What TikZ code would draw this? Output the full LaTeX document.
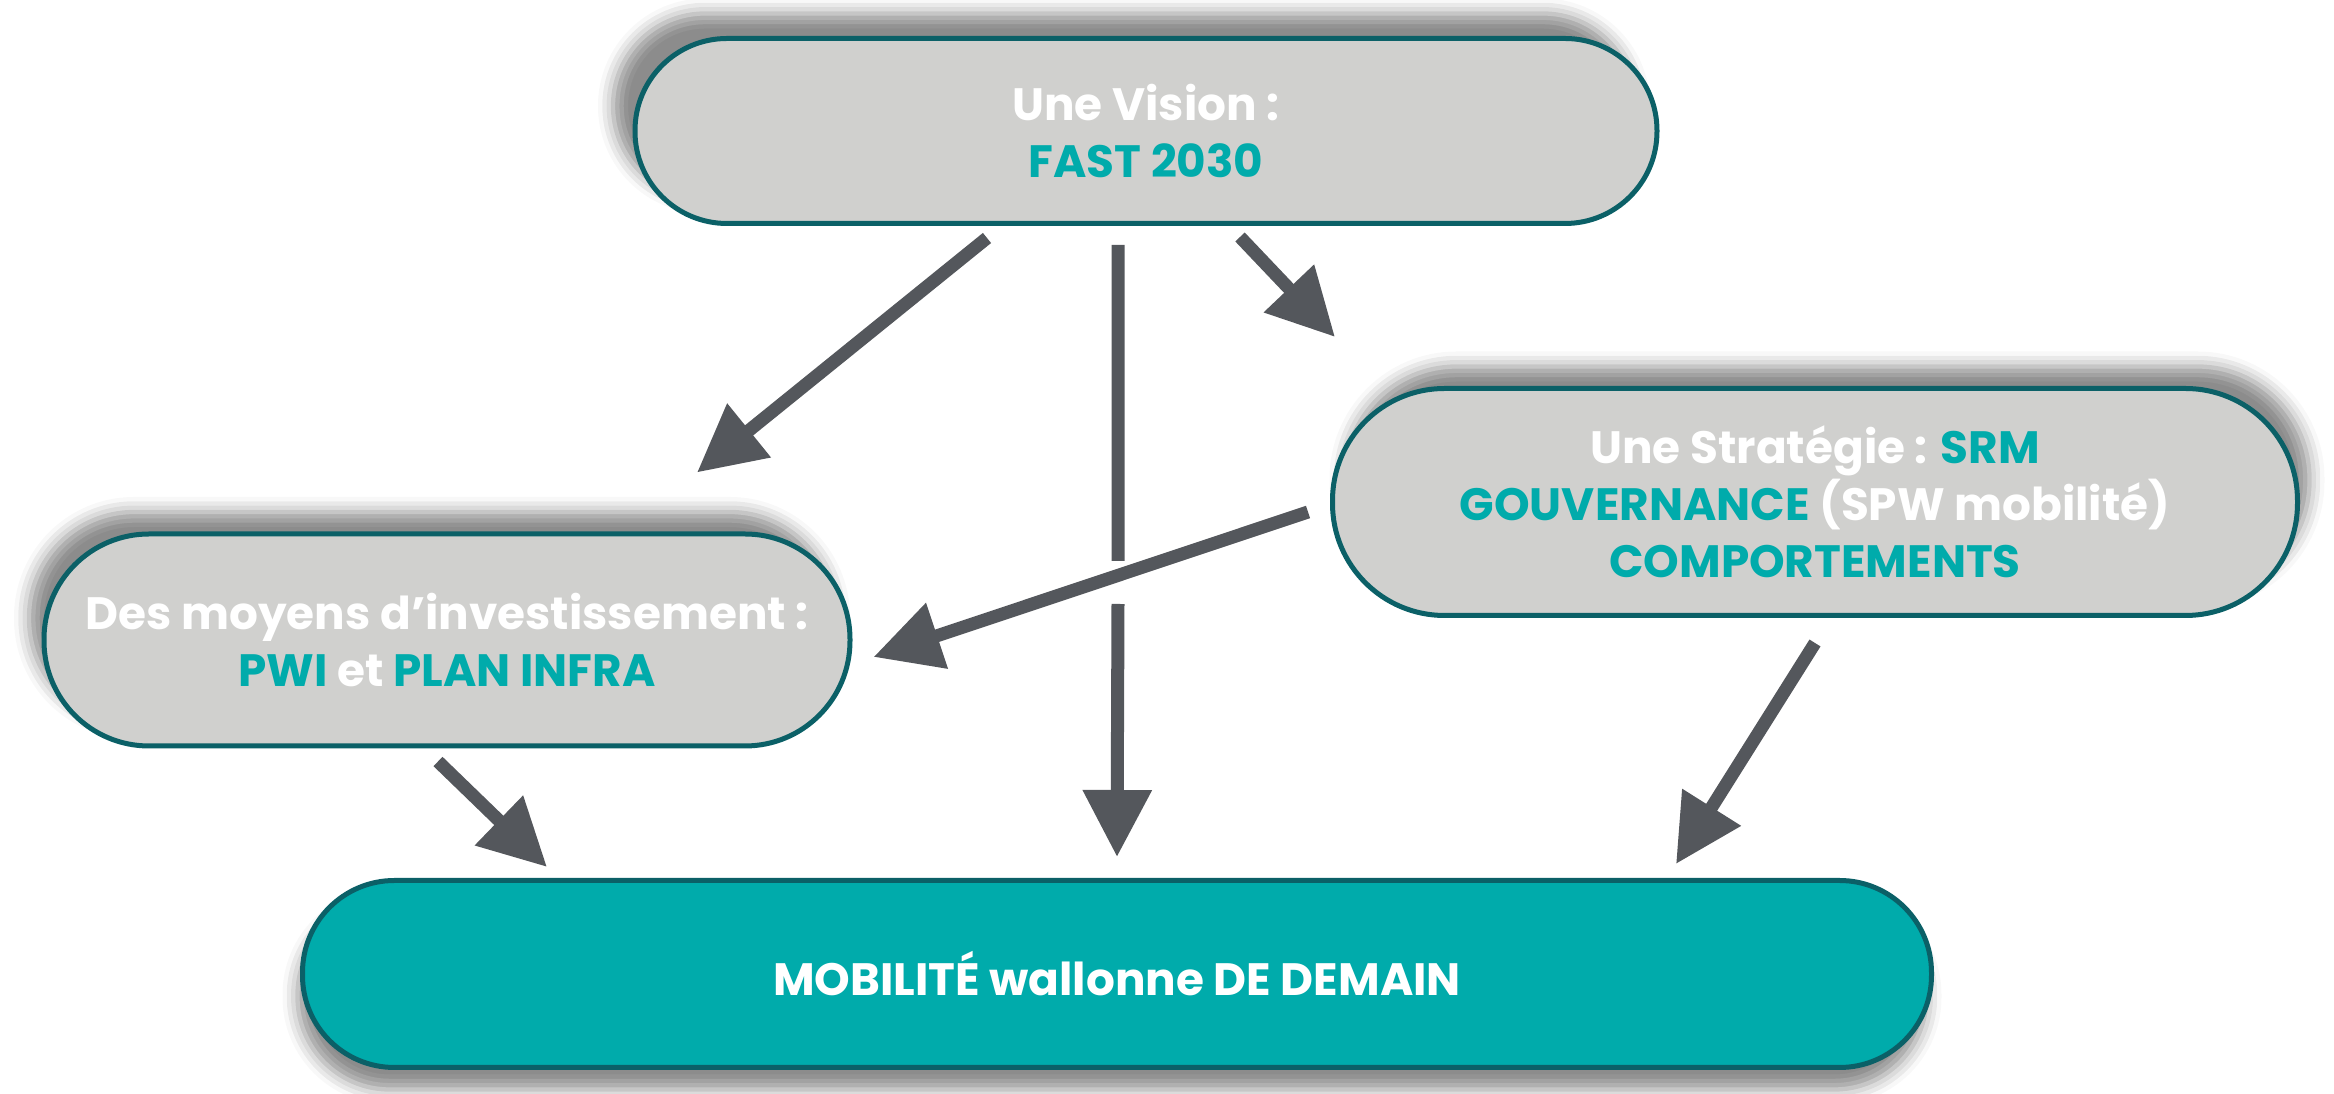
\documentclass[tikz,border=0pt]{standalone}
\usepackage{fontspec}
\setmainfont{Poppins}
\usetikzlibrary{arrows.meta,shadows.blur}

\definecolor{boxgray}{HTML}{D0D0CE}
\definecolor{boxline}{HTML}{0B6067}
\definecolor{wteal}{HTML}{00ABAB}
\definecolor{arrowgray}{HTML}{54575C}

\begin{document}
\begin{tikzpicture}[
  pill/.style={draw=boxline, line width=0.05cm, fill=boxgray, text=white,
    align=center, inner sep=0pt,
    font=\bfseries\fontsize{12.9}{16.2}\selectfont},
  flowline/.style={draw=arrowgray, line width=0.13cm},
  flow/.style={flowline, -{Triangle[length=0.67cm,width=0.66cm]}},
  shad/.style 2 args={blur shadow={shadow xshift=#1, shadow yshift=#2,
    shadow blur radius=0.15cm, shadow opacity=45}}
]

\useasboundingbox (0,0) rectangle (23.34,10.94); %% page size

%% boxes
\node[pill, shad={-0.22cm}{0.25cm}, rounded corners=0.92cm,
  minimum width=10.22cm, minimum height=1.85cm]
  (vision) at (11.46,9.63) {Une Vision :\\ \textcolor{wteal}{FAST 2030}};

\node[pill, shad={0.12cm}{0.22cm}, rounded corners=1.12cm,
  minimum width=9.65cm, minimum height=2.27cm]
  (strat) at (18.15,5.92) {Une Stratégie : \textcolor{wteal}{SRM}\\
  \textcolor{wteal}{GOUVERNANCE} (SPW mobilité)\\
  \textcolor{wteal}{COMPORTEMENTS}};

\node[pill, shad={-0.15cm}{0.22cm}, rounded corners=1.05cm,
  minimum width=8.06cm, minimum height=2.12cm]
  (invest) at (4.47,4.54) {Des moyens d’investissement :\\
  \textcolor{wteal}{PWI} et \textcolor{wteal}{PLAN INFRA}};

\node[pill, fill=wteal, shad={-0.05cm}{-0.22cm}, rounded corners=0.92cm,
  minimum width=16.29cm, minimum height=1.87cm]
  (mobil) at (11.17,1.20) {MOBILITÉ wallonne DE DEMAIN};

%% jump of the vertical arrow
\coordinate (gapT) at (11.18,5.33);
\coordinate (gapB) at (11.18,4.90);

%% arrows
\draw[flow] ([shift={(-1.59,-0.12)}]vision.south) -- ([shift={(2.50,0.59)}]invest.north);
\draw[flowline] ([shift={(-0.28,-0.19)}]vision.south) -- (gapT);
\draw[flow] (gapB) -- ([shift={(0,0.21)}]mobil.north);
\draw[flow] ([shift={(0.94,-0.11)}]vision.south) -- ([shift={(0.05,0.49)}]strat.north west);
\draw[flow] ([shift={(-0.22,-0.10)}]strat.west) -- ([shift={(0.21,-0.17)}]invest.east);
\draw[flow] ([shift={(-0.09,-0.13)}]invest.south) -- ([shift={(2.47,0.11)}]mobil.north west);
\draw[flow] ([shift={(0,-0.25)}]strat.south) -- ([shift={(-2.58,0.14)}]mobil.north east);

\end{tikzpicture}
\end{document}
